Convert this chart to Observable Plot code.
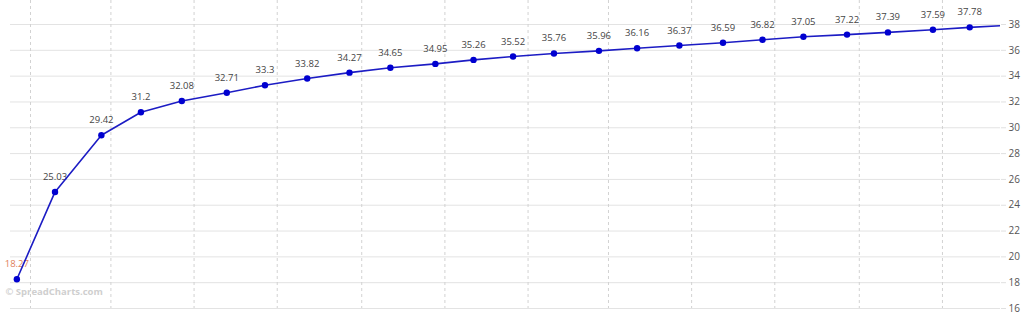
<!DOCTYPE html>
<html>
<head>
<meta charset="utf-8">
<script src="https://cdn.jsdelivr.net/npm/d3@7"></script>
<script src="https://cdn.jsdelivr.net/npm/@observablehq/plot@0.6"></script>
<style>
  html, body { margin: 0; padding: 0; background: #fff; }
  #chart { width: 1024px; height: 326px; overflow: hidden; }
</style>
</head>
<body>
<div id="chart"></div>
<script>
// Contract dates and settlement values (last one runs off the right edge)
const dates = [
  "2024-12-22","2025-01-19","2025-02-22","2025-03-23","2025-04-22","2025-05-25",
  "2025-06-22","2025-07-23","2025-08-23","2025-09-22","2025-10-25","2025-11-22",
  "2025-12-21","2026-01-20","2026-02-22","2026-03-22","2026-04-22","2026-05-24",
  "2026-06-22","2026-07-22","2026-08-23","2026-09-22","2026-10-25","2026-11-21",
  "2026-12-21"
];
const values = [
  18.27, 25.03, 29.42, 31.2, 32.08, 32.71, 33.3, 33.82, 34.27, 34.65, 34.95, 35.26,
  35.52, 35.76, 35.96, 36.16, 36.37, 36.59, 36.82, 37.05, 37.22, 37.39, 37.59, 37.78,
  37.95
];
const labels = values.map(v => String(v));
const yTicks = [16, 18, 20, 22, 24, 26, 28, 30, 32, 34, 36, 38];
const xGridTicks = d3.utcMonth.every(2).range(new Date("2025-01-01"), new Date("2026-11-02"));

const data = dates.map((d, i) => ({date: new Date(d), value: values[i], label: labels[i], i}));
const visible = data.slice(0, -1);

const chart = Plot.plot({
  width: 1024,
  height: 326,
  marginLeft: 10,
  marginRight: 24,
  marginTop: 0,
  marginBottom: 18,
  style: {fontFamily: "'Open Sans', sans-serif", fontSize: "10px", background: "#fff", overflow: "visible"},
  x: {type: "utc", domain: [new Date("2024-12-17T08:00Z"), new Date("2026-12-13T14:00Z")], axis: null},
  y: {domain: [16, 39.86], axis: null, label: null},
  marks: [
    Plot.gridY(yTicks, {stroke: "#e3e3e3", strokeOpacity: 1}),
    Plot.gridX(xGridTicks, {stroke: "#d2d2d2", strokeOpacity: 1, strokeDasharray: "3,3"}),
    Plot.axisY(yTicks, {anchor: "right", label: null, tickSize: 5, tickPadding: 3, stroke: "#e0e0e0", fill: "#555", fontSize: 10, tickFormat: d => String(d)}),
    Plot.text(visible, {x: "date", y: "value", text: "label", dy: -15, fontSize: 9.5,
      fill: d => d.i === 0 ? "#e0805a" : "#444"}),
    Plot.line(data, {x: "date", y: "value", stroke: "#1c1cc4", strokeWidth: 1.6, clip: true}),
    Plot.dot(data, {x: "date", y: "value", r: 3.2, fill: "#0000d0", stroke: "none", clip: true}),
    Plot.text(["© SpreadCharts.com"], {frameAnchor: "bottom-left", dx: -5, dy: -14, textAnchor: "start",
      fill: "#cfcfcf", fontWeight: "bold", fontSize: 9.5})
  ]
});
document.getElementById("chart").appendChild(chart);
</script>
</body>
</html>
